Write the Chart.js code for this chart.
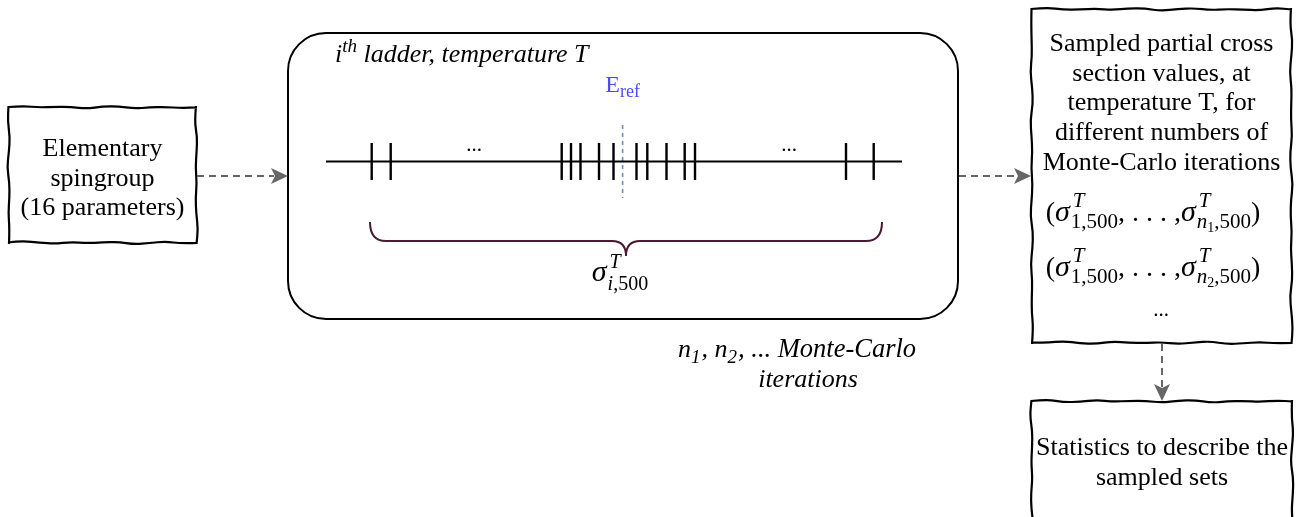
<!DOCTYPE html>
<html><head><meta charset="utf-8">
<script src="https://cdn.jsdelivr.net/npm/chart.js@4/dist/chart.umd.min.js"></script>
<style>html,body{margin:0;padding:0;background:#fff}#wrap{width:1301px;height:517px;position:relative}</style>
</head><body><div id="wrap"><canvas id="c"></canvas></div>
<script>
// ---- data ----
const ladderEnergies = [371.7, 390.7, 561.7, 571.0, 580.5, 599.0, 613.5, 636.5, 647.3, 666.5, 684.7, 695.0, 846.0, 873.7];
const ladderAxis = [326, 902];
const eRef = 622.6;
const eRefSpan = [125, 198];
const leftBoxLines = ["Elementary", "spingroup", "(16 parameters)"];
const rightBoxLines = ["Sampled partial cross", "section values, at", "temperature T, for", "different numbers of", "Monte-Carlo iterations"];
const statsLines = ["Statistics to describe the", "sampled sets"];
const ladderTitle = ["i", "th", " ladder, temperature T"];
const mcLabel = ["n", "1", ", n", "2", ", ... Monte-Carlo"];
const mcLabel2 = "iterations";

// ---- layout / style ----
const SERIF = '"Liberation Serif", "Times New Roman", serif';
const F = (s, it) => (it ? 'italic ' : '') + s + 'px ' + SERIF;
const LADDER_Y = 161.5;

function wobble(ctx, x1, y1, x2, y2, seed) {
  const len = Math.hypot(x2 - x1, y2 - y1), n = Math.max(3, Math.round(len / 16));
  const ux = (x2 - x1) / len, uy = (y2 - y1) / len, nx = -uy, ny = ux;
  const pts = [];
  for (let i = 0; i <= n; i++) {
    const t = i / n;
    const a = (i === 0 || i === n) ? 0 : (1.1 * Math.sin(seed * 3.1 + i * 2.17) + 0.6 * Math.sin(seed * 1.3 + i * 4.9));
    pts.push([x1 + ux * len * t + nx * a, y1 + uy * len * t + ny * a]);
  }
  ctx.moveTo(pts[0][0], pts[0][1]);
  for (let i = 1; i < pts.length - 1; i++) {
    const mx = (pts[i][0] + pts[i + 1][0]) / 2, my = (pts[i][1] + pts[i + 1][1]) / 2;
    ctx.quadraticCurveTo(pts[i][0], pts[i][1], mx, my);
  }
  ctx.lineTo(pts[n][0], pts[n][1]);
}
function sketchRect(ctx, x1, y1, x2, y2, seed) {
  ctx.save(); ctx.beginPath();
  wobble(ctx, x1 - 1, y1, x2 + 1, y1 + 0.5, seed);
  wobble(ctx, x2, y1 - 1, x2 + 0.5, y2 + 1, seed + 1);
  wobble(ctx, x2 + 1, y2, x1 - 1, y2 - 0.5, seed + 2);
  wobble(ctx, x1, y2 + 1, x1 - 0.5, y1 - 1, seed + 3);
  ctx.strokeStyle = '#000'; ctx.lineWidth = 2.2; ctx.lineJoin = 'round'; ctx.lineCap = 'butt';
  ctx.stroke(); ctx.restore();
}
function arrow(ctx, x1, y1, x2, y2) {
  const len = Math.hypot(x2 - x1, y2 - y1), ux = (x2 - x1) / len, uy = (y2 - y1) / len, nx = -uy, ny = ux;
  const hl = 17, hw = 8;
  ctx.save();
  ctx.strokeStyle = '#666'; ctx.fillStyle = '#666'; ctx.lineWidth = 2;
  ctx.setLineDash([7, 5]);
  ctx.beginPath(); ctx.moveTo(x1, y1); ctx.lineTo(x2 - ux * (hl - 3), y2 - uy * (hl - 3)); ctx.stroke();
  ctx.setLineDash([]);
  ctx.beginPath();
  ctx.moveTo(x2, y2);
  ctx.lineTo(x2 - ux * hl + nx * hw, y2 - uy * hl + ny * hw);
  ctx.lineTo(x2 - ux * (hl - 4), y2 - uy * (hl - 4));
  ctx.lineTo(x2 - ux * hl - nx * hw, y2 - uy * hl - ny * hw);
  ctx.closePath(); ctx.fill();
  ctx.restore();
}
// rich text: parts {t,f,dy} or {sup:[...],sub:[...],supDy,subDy}
function measure(ctx, parts) {
  let w = 0;
  for (const p of parts) {
    if (p.sup || p.sub) w += Math.max(measure(ctx, p.sup || []) + (p.supDx || 0), measure(ctx, p.sub || []));
    else { ctx.font = p.f; w += ctx.measureText(p.t).width + (p.sp || 0); }
  }
  return w;
}
function drawParts(ctx, parts, x, y) {
  for (const p of parts) {
    if (p.sup || p.sub) {
      const a = drawParts(ctx, p.sup || [], x + (p.supDx || 0), y + p.supDy);
      const b = drawParts(ctx, p.sub || [], x, y + p.subDy);
      x = Math.max(a, b);
    } else {
      ctx.font = p.f; ctx.fillText(p.t, x, y + (p.dy || 0));
      x += ctx.measureText(p.t).width + (p.sp || 0);
    }
  }
  return x;
}
function drawRich(ctx, parts, x, y, align) {
  ctx.save(); ctx.textAlign = 'left'; ctx.textBaseline = 'alphabetic';
  const w = measure(ctx, parts);
  const sx = align === 'center' ? x - w / 2 : x;
  drawParts(ctx, parts, sx, y);
  ctx.restore();
}
function sigma(sub, big) {
  const M = F(30, true), S = F(big ? 21 : 20, true), R = F(big ? 21 : 20, false);
  return [{ t: 'σ', f: M, sp: 1 }, { sup: [{ t: 'T', f: S }], sub: sub(S, R), supDy: big ? -14 : -13, subDy: big ? 7 : 9, supDx: 2 }];
}

const diagram = {
  id: 'diagram',
  afterDatasetsDraw(chart) {
    const ctx = chart.ctx, xs = chart.scales.x, ys = chart.scales.y;
    const X = v => xs.getPixelForValue(v), Y = v => ys.getPixelForValue(v);
    ctx.save();
    ctx.fillStyle = '#000';
    // left box
    sketchRect(ctx, X(9), Y(107), X(196), Y(243), 1);
    ctx.font = F(26); ctx.textAlign = 'center'; ctx.textBaseline = 'alphabetic';
    leftBoxLines.forEach((s, i) => ctx.fillText(s, X(102.5), Y(156 + i * 29.5)));
    // right boxes
    sketchRect(ctx, X(1032), Y(9), X(1291), Y(343), 5);
    sketchRect(ctx, X(1032), Y(401), X(1292), Y(540), 9);
    ctx.font = F(26);
    rightBoxLines.forEach((s, i) => ctx.fillText(s, X(1161.5), Y(51 + i * 29.7)));
    statsLines.forEach((s, i) => ctx.fillText(s, X(1162), Y(455 + i * 30)));
    // big rounded box
    ctx.beginPath(); ctx.roundRect(X(288), Y(33), X(958) - X(288), Y(319) - Y(33), 38);
    ctx.lineWidth = 2; ctx.strokeStyle = '#000'; ctx.stroke();
    // title
    drawRich(ctx, [{ t: ladderTitle[0], f: F(26, true) }, { t: ladderTitle[1], f: F(19, true), dy: -10 }, { t: ladderTitle[2], f: F(26, true) }], X(335), Y(62), 'left');
    // E_ref
    ctx.fillStyle = '#4b4bff';
    drawRich(ctx, [{ t: 'E', f: F(24) }, { t: 'ref', f: F(18), dy: 5 }], X(622.6), Y(92), 'center');
    ctx.fillStyle = '#000';
    // ladder dots
    ctx.font = F(21); ctx.textAlign = 'center';
    ctx.fillText('...', X(474), Y(151));
    ctx.fillText('...', X(789), Y(151));
    // brace
    ctx.beginPath();
    ctx.moveTo(X(370), Y(222));
    ctx.quadraticCurveTo(X(370), Y(241), X(386), Y(241));
    ctx.lineTo(X(612), Y(241));
    ctx.quadraticCurveTo(X(626), Y(241), X(626), Y(256));
    ctx.moveTo(X(882), Y(222));
    ctx.quadraticCurveTo(X(882), Y(241), X(866), Y(241));
    ctx.lineTo(X(640), Y(241));
    ctx.quadraticCurveTo(X(626), Y(241), X(626), Y(256));
    ctx.strokeStyle = '#4a1a32'; ctx.lineWidth = 2; ctx.stroke();
    // sigma under brace
    ctx.fillStyle = '#000';
    drawRich(ctx, sigma((S, R) => [{ t: 'i', f: S }, { t: ',500', f: R }], false), X(620), Y(281), 'center');
    // right box formulas
    const R28 = F(28), D = F(21);
    const mk = k => [{ t: '(', f: R28 }, ...sigma((S, R) => [{ t: '1,500', f: R }], true), { t: ', . . . ,', f: R28 },
      ...sigma((S, R) => [{ t: 'n', f: S }, { t: k, f: F(14), dy: 4 }, { t: ',500', f: R }], true), { t: ')', f: R28 }];
    drawRich(ctx, mk('1'), X(1153), Y(221), 'center');
    drawRich(ctx, mk('2'), X(1153), Y(276), 'center');
    ctx.font = D; ctx.textAlign = 'center'; ctx.fillText('...', X(1161), Y(316));
    // MC label
    drawRich(ctx, [{ t: mcLabel[0], f: F(26, true) }, { t: mcLabel[1], f: F(19, true), dy: 6, sp: 1 }, { t: mcLabel[2], f: F(26, true) },
      { t: mcLabel[3], f: F(19, true), dy: 6, sp: 1 }, { t: mcLabel[4], f: F(26.5, true) }], X(678), Y(357), 'left');
    ctx.font = F(26, true); ctx.textAlign = 'center'; ctx.fillText(mcLabel2, X(808), Y(387));
    // arrows
    arrow(ctx, X(197), Y(176), X(288), Y(176));
    arrow(ctx, X(959), Y(176), X(1031), Y(176));
    arrow(ctx, X(1162), Y(344), X(1162), Y(401));
    ctx.restore();
  }
};

new Chart(document.getElementById('c'), {
  type: 'scatter',
  data: {
    datasets: [
      { label: 'ladder', data: ladderAxis.map(x => ({ x, y: LADDER_Y })), showLine: true, borderColor: '#000', borderWidth: 2, pointRadius: 0 },
      { label: 'levels', data: ladderEnergies.map(x => ({ x, y: LADDER_Y })), pointStyle: 'line', rotation: 90, pointRadius: 18.5, borderColor: '#000', backgroundColor: '#000', borderWidth: 2.4 },
      { label: 'Eref', data: eRefSpan.map(y => ({ x: eRef, y })), showLine: true, borderDash: [4, 4], borderColor: '#6c8ebf', borderWidth: 1.6, pointRadius: 0 }
    ]
  },
  options: {
    responsive: true, maintainAspectRatio: false, animation: false, events: [],
    layout: { padding: 0, autoPadding: false },
    scales: {
      x: { type: 'linear', min: 0, max: 1301, display: false },
      y: { type: 'linear', min: 0, max: 517, reverse: true, display: false }
    },
    plugins: { legend: { display: false }, tooltip: { enabled: false } }
  },
  plugins: [diagram]
});
</script></body></html>
